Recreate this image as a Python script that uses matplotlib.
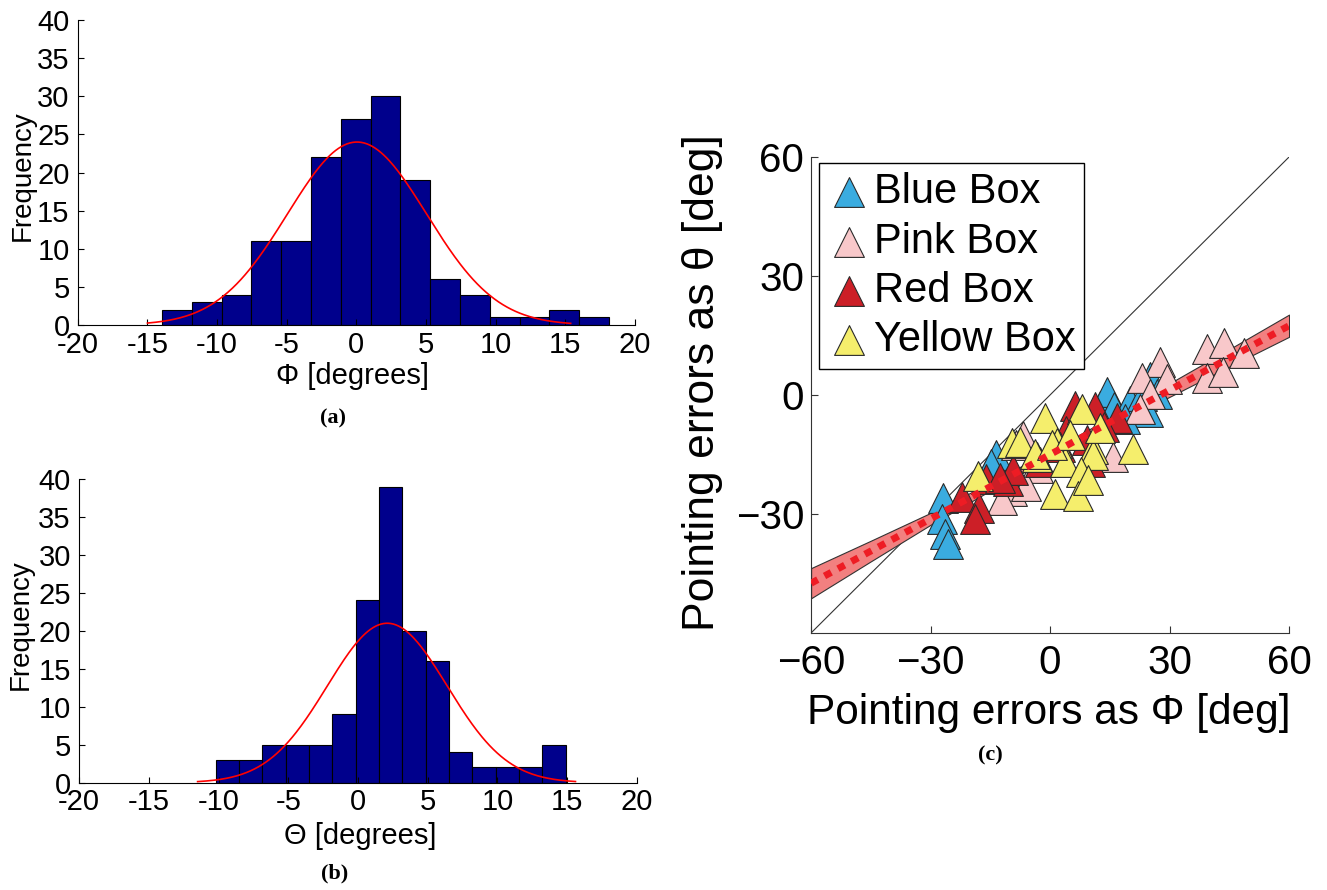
import numpy as np
import matplotlib
matplotlib.use("Agg")
import matplotlib.pyplot as plt

plt.rcParams["font.family"] = ["Liberation Sans", "DejaVu Sans"]
plt.rcParams["axes.unicode_minus"] = False  # histograms use plain hyphens

# ---- histogram data ----
HIST_TICKS = [-20, -15, -10, -5, 0, 5, 10, 15, 20]
FREQ_TICKS = [0, 5, 10, 15, 20, 25, 30, 35, 40]

PHI_RANGE = (-13.95, 18.15)   # first / last bin edge
PHI_COUNTS = [2, 3, 4, 11, 11, 22, 27, 30, 19, 6, 4, 1, 1, 2, 1]
PHI_MU, PHI_SIGMA, PHI_PEAK = 0.05, 5.0, 24.0
PHI_CURVE_SPAN = (-15.0, 15.4)

THETA_RANGE = (-10.2, 14.9)
THETA_COUNTS = [3, 3, 5, 5, 5, 9, 24, 39, 20, 16, 4, 2, 2, 2, 5]
THETA_MU, THETA_SIGMA, THETA_PEAK = 2.1, 4.3, 21.0
THETA_CURVE_SPAN = (-11.5, 15.6)

# ---- scatter data (phi, theta) per box ----
BLUE_PHI = [-27.0, -27.2, -26.4, -25.6, -13.6, -14.8, 12.6, 14.3, 16.0, 20.1,
            23.0, 24.6, 25.1, 26.8, 18.8]
BLUE_THETA = [-26.0, -31.2, -35.0, -37.5, -15.1, -17.5, -2.7, 0.7, -3.0, -1.4,
              -0.2, -4.4, 4.5, 0.3, -6.0]

PINK_PHI = [39.4, 43.7, 48.8, 39.4, 43.5, 27.6, 23.0, 29.3, 25.1, 22.6,
            15.8, -3.0, -6.8, -9.5, -6.0, -8.5, -12.0]
PINK_THETA = [11.5, 13.2, 10.7, 4.4, 5.7, 8.2, 4.4, 4.0, 0.25, -3.5,
              -15.6, -18.4, -10.3, -24.2, -23.0, -12.5, -26.5]

RED_PHI = [-22.1, -17.8, -18.8, -16.1, -10.5, -9.3, -12.6, 6.3, 11.3, 16.7,
           9.3, 4.0, 13.5, 2.5, -2.5, 10.0]
RED_THETA = [-25.8, -28.4, -31.2, -21.2, -21.7, -18.9, -21.0, -2.9, -3.1, -5.9,
             -11.3, -9.0, -8.0, -13.0, -17.0, -17.0]

YELLOW_PHI = [-18.2, -9.5, -7.5, -1.25, 8.0, 1.8, 10.8, 20.8, -3.3, 3.8,
              10.8, 7.8, 1.3, 7.0, 12.6, -3.8, 0.5, 5.0, 9.5]
YELLOW_THETA = [-20.3, -12.1, -11.8, -5.7, -3.5, -12.1, -13.6, -13.6, -15.6, -16.9,
                -15.1, -19.4, -25.0, -25.4, -8.3, -14.9, -12.6, -10.0, -21.5]

FIT_SLOPE, FIT_INTERCEPT = 0.541, -15.0
BAND_PHI = [-60, -45, -30, -15, 0, 15, 30, 45, 60]
BAND_HALF = [3.8, 2.6, 1.5, 1.0, 0.9, 1.1, 1.7, 2.2, 2.8]

SCATTER_TICKS = [-60, -30, 0, 30, 60]
SCATTER_TICK_LABELS = ["\u221260", "\u221230", "0", "30", "60"]

NAVY = "#00008c"
BOX_COLORS = {"Blue Box": "#3aace0", "Pink Box": "#f8c8ca",
              "Red Box": "#cc1f27", "Yellow Box": "#f5ee6c"}

fig = plt.figure(figsize=(13.27, 8.90), dpi=100)


def draw_hist(rect, span, counts, mu, sigma, peak, curve_span, xlabel, ylab_xy, xlab_xy):
    ax = fig.add_axes(rect)
    edges = np.linspace(span[0], span[1], len(counts) + 1)
    ax.bar(edges[:-1], counts, width=np.diff(edges), align="edge",
           color=NAVY, edgecolor="black", linewidth=0.8)
    # histfit style normal curve
    xs = np.linspace(curve_span[0], curve_span[1], 300)
    ax.plot(xs, peak * np.exp(-0.5 * ((xs - mu) / sigma) ** 2), color="red", lw=1.2)

    ax.set_xlim(-20, 20)
    ax.set_ylim(0, 40)
    ax.set_xticks(HIST_TICKS)
    ax.set_yticks(FREQ_TICKS)
    ax.tick_params(direction="in", length=4, labelsize=21)
    ax.tick_params(axis="x", pad=4)
    ax.tick_params(axis="y", pad=6)
    for side in ("top", "right"):
        ax.spines[side].set_visible(False)
    ax.set_ylabel("Frequency", fontsize=20)
    ax.yaxis.set_label_coords(*ylab_xy)
    ax.set_xlabel(xlabel, fontsize=21)
    ax.xaxis.set_label_coords(*xlab_xy)
    return ax


draw_hist([0.0587, 0.6348, 0.4196, 0.3427], PHI_RANGE, PHI_COUNTS,
          PHI_MU, PHI_SIGMA, PHI_PEAK, PHI_CURVE_SPAN, "\u03a6 [degrees]",
          (-0.076, 0.49), (0.493, -0.121))
draw_hist([0.0596, 0.1206, 0.4203, 0.3412], THETA_RANGE, THETA_COUNTS,
          THETA_MU, THETA_SIGMA, THETA_PEAK, THETA_CURVE_SPAN, "\u0398 [degrees]",
          (-0.081, 0.52), (0.504, -0.128))

# ---- panel (c) ----
ax = fig.add_axes([0.6112, 0.2888, 0.3602, 0.5348])
ax.set_xlim(-60, 60)
ax.set_ylim(-60, 60)

ax.axline((0, 0), slope=1, color="#333333", lw=0.8, zorder=1)

band_phi = np.array(BAND_PHI, dtype=float)
band_mid = FIT_INTERCEPT + FIT_SLOPE * band_phi
band_half = np.array(BAND_HALF)
ax.fill_between(band_phi, band_mid - band_half, band_mid + band_half,
                facecolor="#f28080", edgecolor="#333333", linewidth=0.8, zorder=2)

series = [
    ("Blue Box", BLUE_PHI, BLUE_THETA),
    ("Pink Box", PINK_PHI, PINK_THETA),
    ("Red Box", RED_PHI, RED_THETA),
    ("Yellow Box", YELLOW_PHI, YELLOW_THETA),
]
for name, xs, ys in series:
    ax.scatter(xs, ys, marker="^", s=460, facecolor=BOX_COLORS[name],
               edgecolor="#2a2a2a", linewidths=0.8, label=name, zorder=3)

ax.axline((0, FIT_INTERCEPT), slope=FIT_SLOPE, color="#ee1c24", lw=5,
          linestyle=(0, (1.1, 1.1)), zorder=4)

ax.set_xticks(SCATTER_TICKS)
ax.set_xticklabels(SCATTER_TICK_LABELS)
ax.set_yticks(SCATTER_TICKS[1:])
ax.set_yticklabels(SCATTER_TICK_LABELS[1:])
ax.tick_params(direction="in", length=5, labelsize=29, color="#333333")
ax.tick_params(axis="x", pad=8)
ax.tick_params(axis="y", pad=5)
for side in ("top", "right"):
    ax.spines[side].set_visible(False)
for side in ("left", "bottom"):
    ax.spines[side].set_color("#333333")
    ax.spines[side].set_linewidth(0.8)

ax.set_xlabel("Pointing errors as \u03a6 [deg]", fontsize=30.5)
ax.xaxis.set_label_coords(0.498, -0.126)
ax.set_ylabel("Pointing errors as \u03b8 [deg]", fontsize=32)
ax.yaxis.set_label_coords(-0.184, 0.527)

leg = ax.legend(loc="upper left", bbox_to_anchor=(0.0157, 0.987), borderaxespad=0,
                fancybox=False, framealpha=1, edgecolor="black", fontsize=30,
                handletextpad=0.1, labelspacing=0.22, borderpad=0.22,
                handlelength=1.0)
leg.get_frame().set_linewidth(1.0)
leg.set_zorder(10)

# sub-figure captions
for label, (px, py) in {"(a)": (333, 418), "(b)": (335, 873), "(c)": (990, 755)}.items():
    fig.text(px / 1327, 1 - py / 890, label, ha="center", va="center",
             fontsize=16, fontweight="bold", family=["Liberation Serif", "DejaVu Serif"])

fig.savefig("out.png", dpi=100)
